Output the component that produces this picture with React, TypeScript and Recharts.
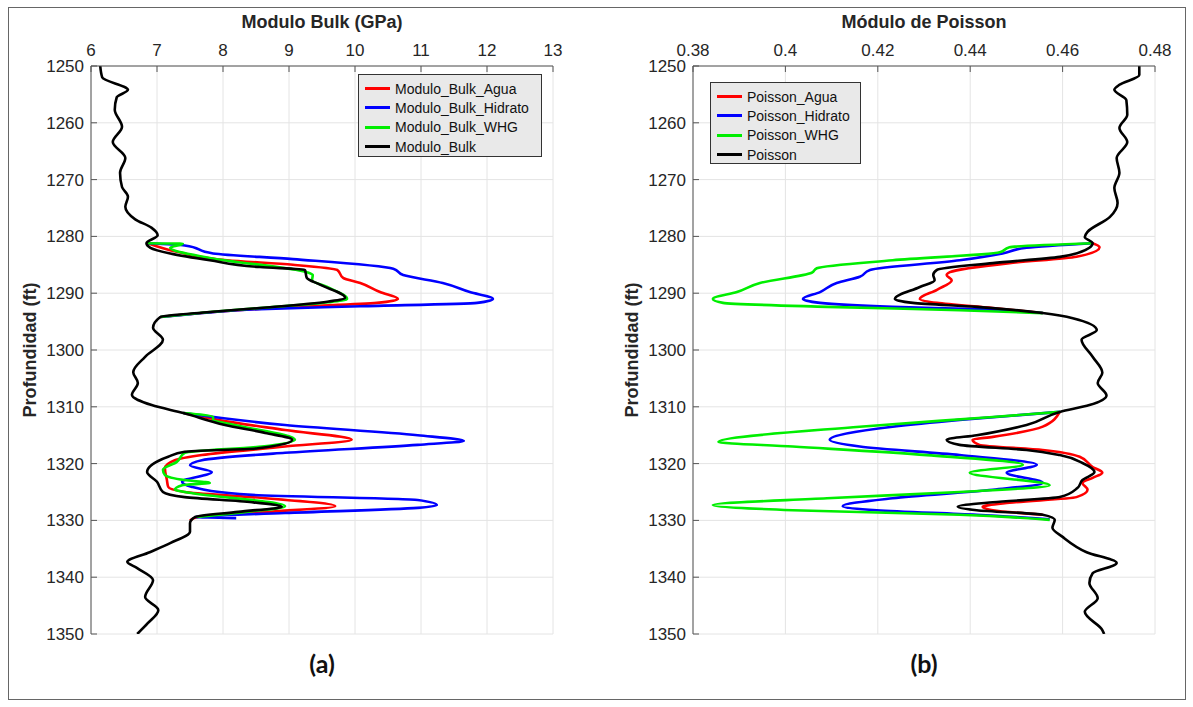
import React from 'react';
import { LineChart, Line, XAxis, YAxis, CartesianGrid } from 'recharts';

// [profundidad (ft), valor]; null marca un corte en la curva
type Pt = [number, number | null];

const depthTicks = [1250, 1260, 1270, 1280, 1290, 1300, 1310, 1320, 1330, 1340, 1350];
const bulkTicks = [6, 7, 8, 9, 10, 11, 12, 13];
const poissonTicks = [0.38, 0.4, 0.42, 0.44, 0.46, 0.48];

// Modulo Bulk (GPa)
const bulk: Pt[] = [
  [1250, 6.14], [1252, 6.17], [1254.2, 6.56], [1255.5, 6.39], [1257.7, 6.36], [1260.7, 6.47],
  [1263.4, 6.33], [1266.2, 6.52], [1268.8, 6.44], [1271.3, 6.47], [1273, 6.56], [1274.8, 6.52],
  [1277, 6.67], [1278.5, 6.92], [1279.8, 7.01], [1281.2, 6.84], [1282, 6.9], [1283, 7.2],
  [1284.2, 7.8], [1285.4, 8.56], [1285.9, 9.24], [1287.3, 9.27], [1288.5, 9.47], [1290.8, 9.85],
  [1291.5, 9.58], [1292.6, 8.56], [1293.3, 7.8], [1294.2, 7.05], [1296.1, 6.94], [1298.2, 7.09],
  [1301.2, 6.82], [1303.9, 6.64], [1305.8, 6.71], [1307.9, 6.62], [1309.7, 6.92], [1311.1, 7.4],
  [1313.2, 8.03], [1314.6, 8.64], [1315.8, 9.05], [1317.3, 8.53], [1317.9, 7.42], [1318.8, 7.17],
  [1321.5, 6.85], [1323.2, 7.0], [1325, 7.09], [1325.9, 7.42], [1326.8, 8.44], [1327.6, 8.89],
  [1328.5, 8.23], [1329.4, 7.58], [1330.5, 7.5], [1332, 7.5], [1334, 7.2], [1335.6, 6.89],
  [1337.3, 6.55], [1338.4, 6.7], [1340.5, 6.94], [1343.5, 6.82], [1345.8, 7.02], [1348.1, 6.86],
  [1350, 6.7],
];
const bulkAgua: Pt[] = [
  [1281.2, 6.86], [1282.7, 7.3], [1284.2, 8.06], [1285, 9.06], [1285.9, 9.73], [1287.3, 9.82],
  [1288.2, 10.08], [1289.8, 10.38], [1291, 10.65], [1291.7, 10.33], [1292.4, 9.06], [1293.3, 7.85],
  [1294.2, 7.05], [1302, null],
  [1311.1, 7.4], [1312.3, 7.92], [1314.1, 8.94], [1315.8, 9.95], [1317, 8.94], [1318.5, 7.68],
  [1319.4, 7.27], [1320.8, 7.12], [1322.9, 7.15], [1324.1, 7.17], [1325, 7.42], [1325.9, 8.44],
  [1327.5, 9.7], [1328.5, 8.68], [1329.4, 7.62], [1330, 7.5],
];
const bulkHidrato: Pt[] = [
  [1281.2, 6.86], [1281.6, 7.42], [1283, 7.85], [1284, 9.06], [1285.7, 10.58], [1286.8, 10.73],
  [1288.2, 11.33], [1289.8, 11.74], [1291, 12.09], [1291.7, 11.85], [1292.3, 10.08], [1292.8, 8.56],
  [1293.4, 7.8], [1294.2, 7.05], [1302, null],
  [1311.1, 7.4], [1313.2, 8.94], [1315, 10.95], [1316, 11.65], [1316.7, 10.95], [1318.1, 8.94],
  [1319.4, 7.68], [1320.3, 7.5], [1321.5, 7.83], [1323.2, 7.38], [1324.1, 7.53], [1325.5, 8.44],
  [1326.4, 10.95], [1327.3, 11.24], [1327.8, 10.95], [1328.7, 8.94], [1329.4, 7.58], [1329.6, 8.2],
];
const bulkWHG: Pt[] = [
  [1281.2, 6.86], [1281.3, 7.39], [1282, 7.2], [1283.8, 7.8], [1286.3, 9.27], [1286.8, 9.36],
  [1287.7, 9.35], [1288.9, 9.58], [1291, 9.88], [1291.6, 9.6], [1292.6, 8.56], [1293.3, 7.8],
  [1294.2, 7.05], [1302, null],
  [1311.1, 7.4], [1311.8, 7.85], [1312.3, 7.85], [1313.2, 8.18], [1315.8, 9.09], [1317, 8.59],
  [1318.1, 7.42], [1319.7, 7.3], [1321.1, 7.09], [1322, 7.12], [1322.9, 7.42], [1323.4, 7.8],
  [1323.8, 7.38], [1324.6, 7.27], [1325, 7.42], [1327.5, 8.94], [1328.5, 8.35], [1329.4, 7.6],
];

// Módulo de Poisson
const poisson: Pt[] = [
  [1250, 0.4766], [1251.6, 0.4766], [1253.3, 0.4723], [1254.2, 0.4712], [1256, 0.4738],
  [1258.6, 0.474], [1260.9, 0.4723], [1263.4, 0.474], [1266.2, 0.4717], [1268.8, 0.4723],
  [1271.5, 0.4712], [1274.1, 0.4719], [1276.6, 0.4702], [1279.2, 0.4654], [1280.1, 0.4648],
  [1281.2, 0.4665], [1282, 0.4658], [1283.6, 0.4594], [1284.7, 0.4449], [1285.9, 0.4328],
  [1286.8, 0.432], [1287.7, 0.4323], [1288.9, 0.4291], [1291, 0.4237], [1291.7, 0.4276],
  [1292.4, 0.4414], [1293.5, 0.4557], [1294.4, 0.4622], [1296.5, 0.4674], [1298.2, 0.4641],
  [1301.2, 0.4665], [1304, 0.4686], [1305.8, 0.4676], [1308, 0.4695], [1309.7, 0.4658],
  [1310.9, 0.4594], [1313.2, 0.4522], [1315, 0.4414], [1315.8, 0.4349], [1316.7, 0.4377],
  [1317.6, 0.4522], [1318.5, 0.4594], [1319.9, 0.4643], [1321.5, 0.4669], [1322.9, 0.4643],
  [1324.3, 0.4632], [1325.9, 0.4594], [1326.8, 0.4449], [1327.6, 0.4373], [1328.2, 0.4414],
  [1329, 0.4557], [1329.9, 0.4583], [1331.3, 0.4578], [1332.9, 0.46], [1335.6, 0.4652],
  [1337.5, 0.4717], [1339.3, 0.4665], [1341, 0.4658], [1343.7, 0.4676], [1346.1, 0.4648],
  [1349.3, 0.4686], [1350, 0.469],
];
const poissonAgua: Pt[] = [
  [1281.2, 0.4665], [1281.9, 0.468], [1283.6, 0.463], [1284.7, 0.4485], [1286.3, 0.4356],
  [1286.8, 0.4349], [1287.7, 0.436], [1289.4, 0.4328], [1291, 0.4291], [1291.7, 0.4328],
  [1292.6, 0.4449], [1293.5, 0.4557], [1302, null],
  [1310.9, 0.4594], [1313.5, 0.4557], [1315.3, 0.4449], [1315.8, 0.4405], [1316.7, 0.442],
  [1317.6, 0.4557], [1318.8, 0.4637], [1320.6, 0.4665], [1321.6, 0.4686], [1322.5, 0.4665],
  [1323.4, 0.4643], [1324.6, 0.4654], [1325.9, 0.463], [1326.9, 0.4485], [1327.6, 0.4427],
  [1328.2, 0.4449], [1329, 0.4557],
];
const poissonHidrato: Pt[] = [
  [1281.2, 0.4665], [1282, 0.4522], [1283, 0.447], [1284.2, 0.4377], [1285.9, 0.4183],
  [1287.1, 0.4161], [1288.2, 0.4111], [1289.8, 0.4075], [1291, 0.4038], [1291.7, 0.4075],
  [1292.4, 0.4232], [1292.8, 0.4414], [1293.5, 0.4557], [1302, null],
  [1310.9, 0.4594], [1312.3, 0.4377], [1313.5, 0.4232], [1315.8, 0.4096], [1317, 0.4161],
  [1318.5, 0.4377], [1320.2, 0.4544], [1321.6, 0.4479], [1323.4, 0.4557], [1324.6, 0.4449],
  [1326.1, 0.4232], [1327.5, 0.4124], [1328.2, 0.4198], [1329, 0.4414], [1329.8, 0.4572],
];
const poissonWHG: Pt[] = [
  [1281.2, 0.4665], [1281.9, 0.4485], [1282.8, 0.4464], [1284.2, 0.4232], [1285.6, 0.4068],
  [1286.4, 0.4057], [1288.2, 0.3945], [1289.8, 0.3895], [1291, 0.3843], [1291.7, 0.3865],
  [1292.4, 0.409], [1293, 0.4377], [1293.5, 0.4557], [1302, null],
  [1310.9, 0.4594], [1311.8, 0.4449], [1313.5, 0.4161], [1316.2, 0.3855], [1317, 0.4016],
  [1318.5, 0.4306], [1320.2, 0.4514], [1321.6, 0.4399], [1323.8, 0.4572], [1325, 0.4377],
  [1326.1, 0.409], [1327.3, 0.3843], [1328.2, 0.4016], [1329, 0.4377], [1329.9, 0.4572],
];

const COLORS = ['#ff0000', '#0000ff', '#00ee00', '#000000'];
const FONT = '"Liberation Sans", Arial, sans-serif';

// parte la serie en tramos donde aparece null
const toSegments = (pts: Pt[]) => {
  const out: { d: number; v: number }[][] = [[]];
  pts.forEach(([d, v]) => {
    if (v == null) out.push([]);
    else out[out.length - 1].push({ d, v });
  });
  return out.filter((s) => s.length > 0);
};

const Panel = ({ left, title, domain, ticks, series, names, tag, legendBox }) => (
  <div style={{ position: 'absolute', left, top: 0, width: 600, height: 707, fontFamily: FONT }}>
    <div style={{ position: 'absolute', left: 91, width: 462, top: 12, textAlign: 'center', fontSize: 18, fontWeight: 'bold', color: '#262626' }}>
      {title}
    </div>
    <div style={{ position: 'absolute', left: 30, top: 350, width: 0, height: 0 }}>
      <div style={{ position: 'absolute', transform: 'translate(-50%, -50%) rotate(-90deg)', whiteSpace: 'nowrap', fontSize: 18, fontWeight: 'bold', color: '#262626' }}>
        Profundidad (ft)
      </div>
    </div>
    <div style={{ position: 'absolute', top: 0, left: 0 }}>
      <LineChart width={600} height={660} layout="vertical" margin={{ top: 41, right: 47, bottom: 26, left: 41 }}>
        <CartesianGrid stroke="#e4e4e4" />
        <XAxis type="number" orientation="top" domain={domain} ticks={ticks} allowDataOverflow height={25}
          tickSize={-6} tickMargin={16} axisLine={{ stroke: '#555' }} tickLine={{ stroke: '#555' }}
          tick={{ fill: '#262626', fontSize: 17 }} />
        <XAxis xAxisId="b" type="number" orientation="bottom" domain={domain} ticks={ticks} allowDataOverflow height={0}
          tickSize={-6} tick={false} axisLine={{ stroke: '#555' }} tickLine={{ stroke: '#555' }} />
        <YAxis type="number" dataKey="d" domain={[1250, 1350]} ticks={depthTicks} allowDataOverflow width={50}
          tickSize={-6} tickMargin={13} axisLine={{ stroke: '#555' }} tickLine={{ stroke: '#555' }}
          tick={{ fill: '#262626', fontSize: 17 }} />
        <YAxis yAxisId="r" orientation="right" type="number" dataKey="d" domain={[1250, 1350]} ticks={depthTicks} allowDataOverflow width={0}
          tickSize={-6} tick={false} axisLine={{ stroke: '#555' }} tickLine={{ stroke: '#555' }} />
        {series.map((s, i) =>
          toSegments(s).map((seg, j) => (
            <Line key={`${names[i]}-${j}`} data={seg} dataKey="v" name={names[i]} type="monotone" stroke={COLORS[i]}
              strokeWidth={2.6} dot={false} isAnimationActive={false} />
          ))
        )}
      </LineChart>
    </div>
    <div style={{ position: 'absolute', ...legendBox, background: '#e9e9e9', border: '1px solid #333', boxSizing: 'border-box', padding: '4px 6px' }}>
      {names.map((n, i) => (
        <div key={n} style={{ display: 'flex', alignItems: 'center', height: 19.3, fontSize: 14, color: '#111' }}>
          <span style={{ display: 'inline-block', width: 25, height: 3, background: COLORS[i], marginRight: 5 }} />
          {n}
        </div>
      ))}
    </div>
    <div style={{ position: 'absolute', left: 91, width: 462, top: 648, textAlign: 'center', fontFamily: 'Lato, sans-serif', fontWeight: 'bold', fontSize: 25, color: '#111' }}>
      {tag}
    </div>
  </div>
);

export default function App() {
  return (
    <div style={{ position: 'absolute', left: 0, top: 0, width: 1193, height: 707, background: '#fff' }}>
      <div style={{ position: 'absolute', left: 8, top: 7, width: 1178, height: 693, border: '1px solid #666', boxSizing: 'border-box' }} />
      <Panel
        left={0}
        title="Modulo Bulk (GPa)"
        domain={[6, 13]}
        ticks={bulkTicks}
        series={[bulkAgua, bulkHidrato, bulkWHG, bulk]}
        names={['Modulo_Bulk_Agua', 'Modulo_Bulk_Hidrato', 'Modulo_Bulk_WHG', 'Modulo_Bulk']}
        tag="(a)"
        legendBox={{ left: 358, top: 74, width: 184, height: 83 }}
      />
      <Panel
        left={602}
        title="Módulo de Poisson"
        domain={[0.38, 0.48]}
        ticks={poissonTicks}
        series={[poissonAgua, poissonHidrato, poissonWHG, poisson]}
        names={['Poisson_Agua', 'Poisson_Hidrato', 'Poisson_WHG', 'Poisson']}
        tag="(b)"
        legendBox={{ left: 108, top: 82, width: 151, height: 82 }}
      />
    </div>
  );
}
